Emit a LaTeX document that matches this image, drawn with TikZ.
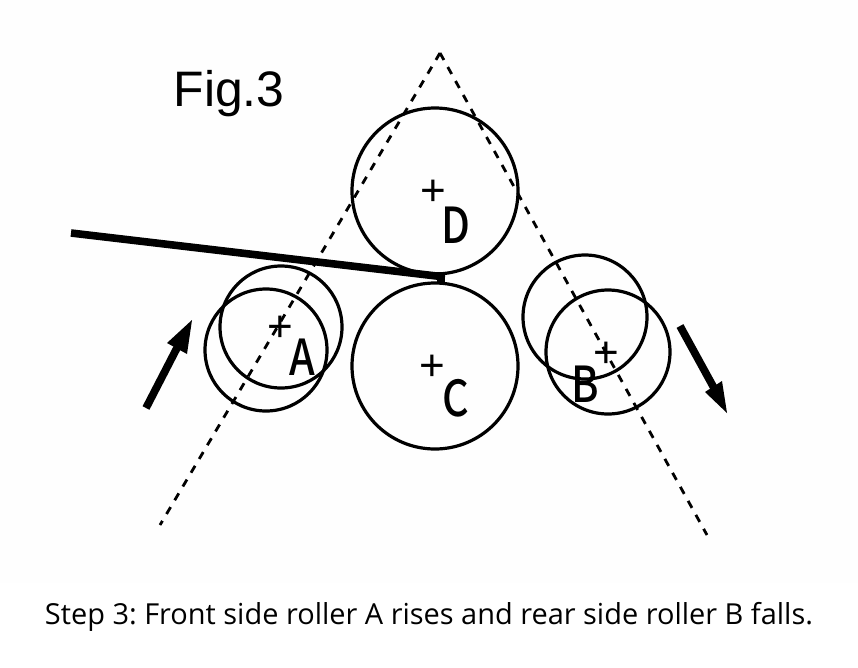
\documentclass[tikz,border=0pt]{standalone}
\usepackage{fontspec}
\setmainfont{Liberation Sans}
\newfontfamily\capfont{Open Sans}
\newfontfamily\letfont{Noto Sans CJK JP Medium}
\definecolor{paper}{RGB}{254,254,254}
\tikzset{
 roller/.style={draw=black,line width=2.4pt,circle,minimum size=#1,inner sep=0pt},
 guide/.style={draw=black,line width=2.1pt,dash pattern=on 6pt off 6pt},
 arrowline/.style={draw=black,line width=5.8pt},
 arrowtip/.style={fill=black,draw=none},
 lett/.style={font=\letfont\fontsize{31}{31}\selectfont,inner sep=0pt,yscale=1.2},
 cross/.style={font=\fontsize{33}{33}\selectfont,inner sep=0pt},
}
\begin{document}
\begin{tikzpicture}[x=0.75pt,y=-0.75pt]
\useasboundingbox[fill=white] (0,0) rectangle (858,668);
\fill[paper] (0,0) rectangle (858,583);
\coordinate (apex) at (440,53);
\coordinate (ll) at (160,525);
\coordinate (lr) at (707,535);
\draw[guide] (apex) -- (ll);
\draw[guide] (apex) -- (lr);
\node[roller=166*0.75pt] (D) at (435,191) {};
\node[roller=166*0.75pt] (C) at (435,366) {};
\node[roller=122*0.75pt] (A1) at (281,327) {};
\node[roller=122*0.75pt] (A2) at (266,350) {};
\node[roller=124*0.75pt] (B1) at (585,317) {};
\node[roller=124*0.75pt] (B2) at (608,352) {};
\node[cross] (pd) at (433,193) {+};
\node[cross] (pc) at (432,368) {+};
\node[cross] (pa) at (280,329) {+};
\node[cross] (pb) at (606,355) {+};
\node[lett] (ld) at (456,225) {D};
\node[lett] (lc) at (456,398) {C};
\node[lett] (la) at (302,357) {A};
\node[lett] (lb) at (585,384) {B};
\coordinate (s0) at (71,233);
\coordinate (s1) at (445,277);
\draw[line width=5.7pt] (s0) -- (s1);
\fill (437,272) rectangle (445,283);
\coordinate (a0) at (146,408);
\coordinate (a1) at (192,320);
\draw[arrowline] (a0) -- (178,346);
\fill[arrowtip] (a1) -- (187,354) -- (167,343) -- cycle;
\coordinate (b0) at (680,326);
\coordinate (b1) at (727,413);
\draw[arrowline] (b0) -- (714,388);
\fill[arrowtip] (b1) -- (705,392) -- (722,381) -- cycle;
\node[font=\fontsize{37.4}{37.4}\selectfont,inner sep=0pt] (fig) at (229,94) {Fig.3};
\node[font=\capfont\frenchspacing\fontsize{21.7}{21.7}\selectfont,inner sep=0pt] (cap) at (429,617) {Step 3: Front side roller A rises and rear side roller B falls.};
\end{tikzpicture}
\end{document}
